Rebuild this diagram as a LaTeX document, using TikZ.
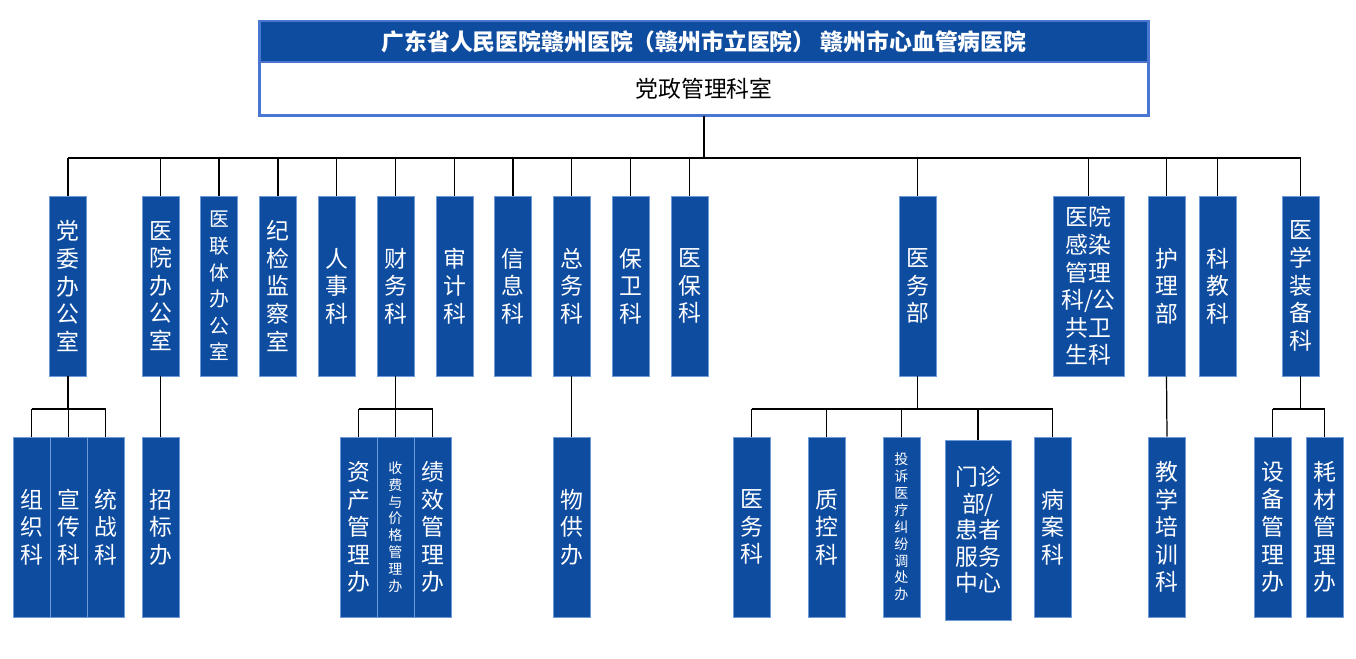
\documentclass[tikz,border=0pt]{standalone}
\usepackage{fontspec}
\setmainfont{Noto Sans CJK SC}
\usetikzlibrary{positioning}
\definecolor{orgBlue}{RGB}{14,76,160}
\definecolor{orgEdge}{RGB}{110,155,215}
\definecolor{topEdge}{RGB}{72,118,208}

\begin{document}
\begin{tikzpicture}[x=0.02cm,y=-0.02cm,
    topbox/.style={draw=topEdge,line width=1.7pt,outer sep=0pt,minimum width=17.8cm,inner sep=0pt},
    dept/.style={draw=orgEdge,line width=0.5pt,fill=orgBlue,text=white,align=center,inner sep=0pt,
      minimum width=0.74cm,minimum height=3.6cm,font=\fontsize{13}{15.7}\selectfont},
    wide/.style={minimum width=1.42cm},
    small/.style={font=\fontsize{8}{9.6}\selectfont},
    link/.style={line width=0.7pt}
  ]
    \useasboundingbox (0,0) rectangle (1356,659);
    % top of the chart
    \node[topbox,fill=orgBlue,text=white,minimum height=0.82cm,font=\fontsize{13}{15}\selectfont\bfseries] (title) at (704,41.5)
      {广东省人民医院赣州医院（赣州市立医院）\ 赣州市心血管病医院};
    \node[topbox,fill=white,minimum height=1.08cm,below=0pt of title,font=\fontsize{13}{15}\selectfont] (office) {党政管理科室};

    % first level
    \node[dept] (dangwei) at (68,286) {党\\委\\办\\公\\室};
    \node[dept] (yuanban) at (160.5,286) {医\\院\\办\\公\\室};
    \node[dept,font=\fontsize{11.3}{15.1}\selectfont] (yilian) at (219,286) {医\\联\\体\\办\\公\\室};
    \node[dept] (jijian) at (278,286) {纪\\检\\监\\察\\室};
    \node[dept] (renshi) at (336.5,286) {人\\事\\科};
    \node[dept] (caiwu) at (395.5,286) {财\\务\\科};
    \node[dept] (shenji) at (454.5,286) {审\\计\\科};
    \node[dept] (xinxi) at (513,286) {信\\息\\科};
    \node[dept] (zongwu) at (571.5,286) {总\\务\\科};
    \node[dept] (baowei) at (630.5,286) {保\\卫\\科};
    \node[dept] (yibao) at (689.5,286) {医\\保\\科};
    \node[dept] (yiwubu) at (917.5,286) {医\\务\\部};
    \node[dept,wide] (ganran) at (1088.5,286) {医院\\感染\\管理\\科/公\\共卫\\生科};
    \node[dept] (huli) at (1166.5,286) {护\\理\\部};
    \node[dept] (kejiao) at (1217.5,286) {科\\教\\科};
    \node[dept] (zhuangbei) at (1300.5,286) {医\\学\\装\\备\\科};

    % second level
    \node[dept] (zuzhi) at (31.5,527) {组\\织\\科};
    \node[dept] (xuanchuan) at (68.5,527) {宣\\传\\科};
    \node[dept] (tongzhan) at (105.5,527) {统\\战\\科};
    \node[dept] (zhaobiao) at (160.5,527) {招\\标\\办};
    \node[dept] (zichan) at (358.5,527) {资\\产\\管\\理\\办};
    \node[dept,small] (shoufei) at (395.5,527) {收\\费\\与\\价\\格\\管\\理\\办};
    \node[dept] (jixiao) at (432.5,527) {绩\\效\\管\\理\\办};
    \node[dept] (wugong) at (571.5,527) {物\\供\\办};
    \node[dept] (yiwuke) at (751.5,527) {医\\务\\科};
    \node[dept] (zhikong) at (826.5,527) {质\\控\\科};
    \node[dept,small] (tousu) at (901.5,527) {投\\诉\\医\\疗\\纠\\纷\\调\\处\\办};
    \node[dept,minimum width=1.32cm,font=\fontsize{13}{15.1}\selectfont] (menzhen) at (978,530) {门诊\\部/\\患者\\服务\\中心};
    \node[dept] (bingan) at (1052.5,527) {病\\案\\科};
    \node[dept] (jiaoxue) at (1167,527) {教\\学\\培\\训\\科};
    \node[dept] (shebei) at (1272.5,527) {设\\备\\管\\理\\办};
    \node[dept] (haocai) at (1324.5,527) {耗\\材\\管\\理\\办};

    % connectors
    \coordinate (bus) at (0,158);
    \coordinate (sub) at (0,409);
    \draw[link] (office.south) -- (office.south |- bus);
    \draw[link] (dangwei.north |- bus) -- (zhuangbei.north |- bus);
    \foreach \n in {dangwei,yuanban,yilian,jijian,renshi,caiwu,shenji,xinxi,zongwu,baowei,yibao,yiwubu,ganran,huli,kejiao,zhuangbei}
      \draw[link] (\n.north) -- (\n.north |- bus);

    \draw[link] (dangwei.south) -- (dangwei.south |- sub);
    \draw[link] (zuzhi.north |- sub) -- (tongzhan.north |- sub);
    \foreach \n in {zuzhi,xuanchuan,tongzhan}
      \draw[link] (\n.north) -- (\n.north |- sub);

    \draw[link] (yuanban.south) -- (zhaobiao.north);

    \draw[link] (caiwu.south) -- (caiwu.south |- sub);
    \draw[link] (zichan.north |- sub) -- (jixiao.north |- sub);
    \foreach \n in {zichan,shoufei,jixiao}
      \draw[link] (\n.north) -- (\n.north |- sub);

    \draw[link] (zongwu.south) -- (wugong.north);

    \draw[link] (yiwubu.south) -- (yiwubu.south |- sub);
    \draw[link] (yiwuke.north |- sub) -- (bingan.north |- sub);
    \foreach \n in {yiwuke,zhikong,tousu,menzhen,bingan}
      \draw[link] (\n.north) -- (\n.north |- sub);

    \draw[link] (huli.south) -- (jiaoxue.north);

    \draw[link] (zhuangbei.south) -- (zhuangbei.south |- sub);
    \draw[link] (shebei.north |- sub) -- (haocai.north |- sub);
    \foreach \n in {shebei,haocai}
      \draw[link] (\n.north) -- (\n.north |- sub);
  \end{tikzpicture}
\end{document}
